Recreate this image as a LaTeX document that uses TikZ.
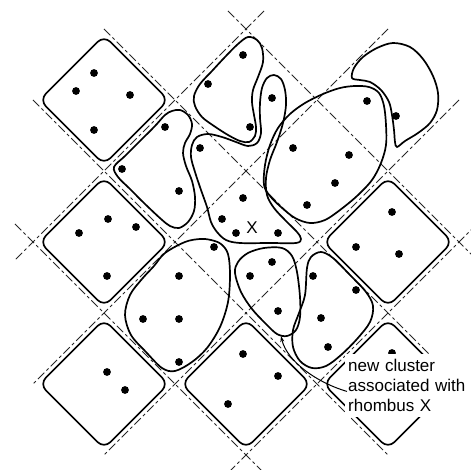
\documentclass[tikz,border=0pt]{standalone}
\usepackage{fontspec}
\newfontfamily\lab{Liberation Sans}
\usetikzlibrary{arrows.meta}
\begin{document}
\begin{tikzpicture}[x=1pt,y=-1pt,
  gridline/.style={line width=0.8pt, dash pattern=on 9pt off 3pt on 3pt off 3pt, black!85},
  rh/.style={line width=1.7pt, rounded corners=9pt},
  cl/.style={line width=1.7pt},
  dot/.style={fill=black},
  lbltext/.style={font=\lab\fontsize{17}{20}\selectfont},
  arr/.style={line width=1pt, -{Stealth[length=6pt,width=4pt]}}]
\useasboundingbox (0,0) rectangle (471,470);
% dashed grid
\draw[gridline] (104,29) -- (459,384);
\draw[gridline] (33,100) -- (388,455);
\draw[gridline] (388,29) -- (33,384);
\draw[gridline] (459,100) -- (104,455);
\draw[gridline] (264,11) -- (15,260);
\draw[gridline] (477,224) -- (228,473);
\draw[gridline] (228,11) -- (477,260);
\draw[gridline] (15,224) -- (264,473);
% rhombi
\foreach \cx/\cy in {104/100,104/242,104/384,246/384,388/242,388/384}{
  \draw[rh] (\cx,\cy-64.5) -- (\cx+64.5,\cy) -- (\cx,\cy+64.5) -- (\cx-64.5,\cy) -- cycle;
}
% clusters
% A
\draw[cl] plot[smooth cycle, tension=0.55] coordinates {(114,167) (125,156) (140,141) (155,126) (165,115) (172,111) (180,110) (188,115) (192,124) (190,134) (185,143) (183,153) (186,166) (192,181) (195,197) (194,211) (188,222) (179,228) (170,226) (161,219) (145,204) (130,189) (118,177)};
% B
\draw[cl] plot[smooth cycle, tension=0.55] coordinates {(248,37) (257,40) (262,48) (263,62) (258,77) (253,90) (252,102) (254,115) (256,127) (255,136) (249,142) (240,141) (228,135) (214,126) (202,117) (195,106) (194,96) (200,84) (212,71) (225,57) (238,44)};
% C
\draw[cl] plot[smooth cycle, tension=0.55] coordinates {(192,145) (197,137) (208,134) (222,137) (236,142) (248,146) (257,143) (261,133) (260,118) (260,103) (262,88) (267,78) (274,75) (281,79) (285,90) (286,105) (283,123) (277,142) (270,160) (266,178) (267,195) (274,208) (286,221) (297,232) (301,239) (296,243) (270,243) (240,243) (226,240) (217,232) (211,222) (207,207) (201,190) (195,172) (191,157)};
% D
\draw[cl] plot[smooth cycle, tension=0.55] coordinates {(264,185) (265,165) (270,145) (278,128) (290,114) (305,103) (323,94) (340,88) (355,86) (369,87) (379,93) (384,106) (386,125) (386,145) (381,163) (372,180) (357,196) (340,210) (325,220) (310,223) (295,218) (281,207) (270,196)};
% F
\draw[cl] plot[smooth cycle, tension=0.55] coordinates {(352,78) (354,68) (363,57) (377,48) (393,43) (410,47) (423,59) (433,76) (438,93) (437,110) (430,123) (418,133) (405,141) (397,147) (395,142) (394,130) (392,115) (389,102) (381,90) (370,82) (360,80)};
% G
\draw[cl] plot[smooth cycle, tension=0.55] coordinates {(165,253) (185,242) (200,239) (211,240) (221,244) (228,254) (230,275) (228,302) (220,327) (207,348) (192,362) (175,371) (162,368) (146,352) (131,335) (125,315) (130,295) (142,279) (154,266)};
% E
\draw[cl] plot[smooth cycle, tension=0.55] coordinates {(235,273) (238,262) (248,253) (264,248) (282,248) (292,256) (297,272) (300,297) (300,317) (296,330) (287,336) (277,334) (266,324) (252,309) (241,292)};
% H
\draw[cl] plot[smooth cycle, tension=0.55] coordinates {(307,268) (311,257) (321,252) (333,258) (350,275) (366,292) (373,306) (370,322) (357,339) (341,355) (326,366) (312,368) (300,361) (293,347) (293,330) (299,313) (305,295)};
% dots
\foreach \px/\py in {94/73,76/91,130/95,94/130,
  108/219,136/227,79/233,107/276,
  107/372,125/390,
  243/354,278/376,228/404,
  392/212,356/247,399/254,
  392/353,
  165/127,122/169,179/191,
  208/84,243/55,250/127,
  200/148,272/98,243/198,222/219,236/233,278/233,
  367/101,293/148,349/155,335/183,307/205,
  396/116,
  214/247,179/276,143/319,179/319,179/362,
  272/262,250/276,278/311,
  313/276,356/290,321/318,328/347}{
  \fill[dot] (\px,\py) circle (3.9);
}
\node[lbltext, inner sep=0pt] (xl) at (252,228) {X};
\node[lbltext, fill=white, inner xsep=3pt, inner ysep=5pt, anchor=north west, align=left, text width=125pt] (lbl) at (345,354) {new cluster\\associated with\\rhombus X};
\coordinate (tipE) at (281,336);
\draw[arr] ([xshift=2pt,yshift=-6pt]lbl.west) .. controls (318,383) and (287,362) .. (tipE);
\end{tikzpicture}
\end{document}
